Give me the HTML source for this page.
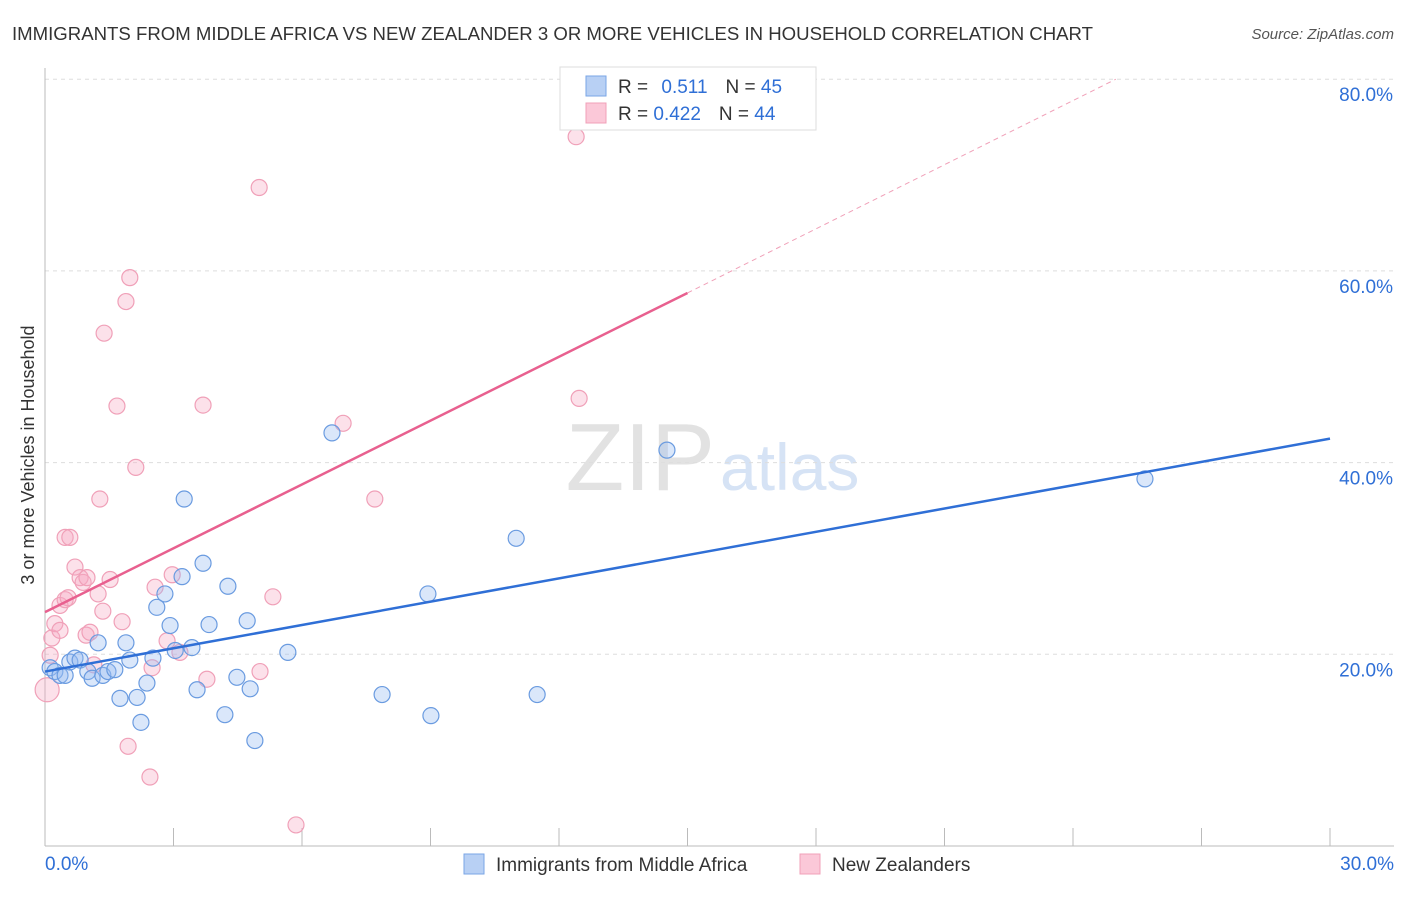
<!DOCTYPE html>
<html><head><meta charset="utf-8"><style>
body{margin:0;background:#fff;font-family:"Liberation Sans",sans-serif;}
svg text{font-family:"Liberation Sans",sans-serif;}
</style></head><body>
<svg id="c" width="1406" height="892" xmlns="http://www.w3.org/2000/svg">
<text x="12" y="40" font-size="18.6" fill="#333">IMMIGRANTS FROM MIDDLE AFRICA VS NEW ZEALANDER 3 OR MORE VEHICLES IN HOUSEHOLD CORRELATION CHART</text>
<text x="1394" y="39" font-size="15" fill="#555" font-style="italic" text-anchor="end">Source: ZipAtlas.com</text>
<text x="715" y="490" font-size="96" fill="#e2e2e2" font-family="Liberation Serif" text-anchor="end">ZIP</text>
<text x="720" y="490" font-size="66" fill="#d6e3f5">atlas</text>
<g id="grid"></g>
<g id="axes"></g>
<g id="marks"></g>
<text transform="translate(34,455) rotate(-90)" font-size="18" fill="#333" text-anchor="middle">3 or more Vehicles in Household</text>
<g>
<rect x="560" y="67" width="256" height="63" fill="#fff" stroke="#ddd"/>
<rect x="586" y="76" width="20" height="20" fill="#b8d0f4" stroke="#7aa6e6"/>
<rect x="586" y="103" width="20" height="20" fill="#fbc8d8" stroke="#f0a0b8"/>
<text x="618" y="93" font-size="19" fill="#333">R = <tspan fill="#2f6fd6" dx="8">0.511</tspan><tspan dx="18" fill="#333">N = </tspan><tspan fill="#2f6fd6">45</tspan></text>
<text x="618" y="120" font-size="19" fill="#333">R = <tspan fill="#2f6fd6">0.422</tspan><tspan dx="18" fill="#333">N = </tspan><tspan fill="#2f6fd6">44</tspan></text>
</g>
<g>
<rect x="464" y="854" width="20" height="20" fill="#b8d0f4" stroke="#7aa6e6"/>
<text x="496" y="871" font-size="19" fill="#333">Immigrants from Middle Africa</text>
<rect x="800" y="854" width="20" height="20" fill="#fbc8d8" stroke="#f0a0b8"/>
<text x="832" y="871" font-size="19" fill="#333">New Zealanders</text>
</g>
</svg>
<script>
const yTicks=[20,40,60,80];
const xTickLabels=["0.0%","30.0%"];
const blueX=[0.12,0.23,0.35,0.47,0.58,0.70,0.82,1.0,1.1,1.24,1.35,1.47,1.63,1.75,1.89,1.98,2.15,2.24,2.38,2.52,2.61,2.80,2.92,3.04,3.2,3.25,3.43,3.55,3.69,3.83,4.2,4.27,4.48,4.72,4.79,4.9,5.67,6.7,7.87,8.94,9.01,11.0,11.49,14.52,25.68];
const blueY=[18.6,18.2,17.8,17.8,19.2,19.6,19.4,18.2,17.5,21.2,17.8,18.2,18.4,15.4,21.2,19.4,15.5,12.9,17.0,19.6,24.9,26.3,23.0,20.4,28.1,36.2,20.7,16.3,29.5,23.1,13.7,27.1,17.6,23.5,16.4,11.0,20.2,43.1,15.8,26.3,13.6,32.1,15.8,41.3,38.3];
const pinkX=[0.05,0.12,0.16,0.23,0.35,0.47,0.54,0.47,0.58,0.70,0.82,0.89,0.98,0.96,1.05,1.14,1.24,1.28,1.35,1.38,1.68,1.8,1.89,1.94,1.98,2.12,2.45,2.5,2.57,2.85,2.97,3.15,3.69,3.78,5.0,5.02,5.32,5.86,6.96,7.7,12.4,12.47,0.35,1.52];
const pinkY=[16.3,19.9,21.7,23.2,25.1,25.7,25.9,32.2,32.2,29.1,28.0,27.5,28.0,22.0,22.3,18.9,26.3,36.2,24.5,53.5,45.9,23.4,56.8,10.4,59.3,39.5,7.2,18.6,27.0,21.4,28.3,20.2,46.0,17.4,68.7,18.2,26.0,2.2,44.1,36.2,74.0,46.7,22.5,27.8];
const blueLine=[[0,18.2],[30,42.5]];
const pinkLine=[[0,24.4],[15,57.7]];
const pinkDash=[[15,57.7],[25,80]];
const X=v=>45+v*(1285/30), Y=v=>846-v*9.585;
const NS="http://www.w3.org/2000/svg";
function mk(tag,attrs,parent){const e=document.createElementNS(NS,tag);for(const k in attrs)e.setAttribute(k,attrs[k]);document.getElementById(parent).appendChild(e);return e;}
yTicks.forEach(t=>{
 const l=mk('line',{x1:45,x2:1394,y1:Y(t),y2:Y(t),stroke:'#ddd','stroke-dasharray':'4,4'},'grid');
 
 
 const tx=mk('text',{x:1393,y:Y(t)+22,'font-size':19,fill:'#2f6fd6','text-anchor':'end'},'grid');tx.textContent=t.toFixed(1)+'%';
 
 
});
const xa=mk('line',{x1:45,x2:1394,y1:846,y2:846,stroke:'#bbb'},'axes');


const ya=mk('line',{x1:45,x2:45,y1:68,y2:846,stroke:'#bbb'},'axes');


for(let i=0;i<=10;i++){const t=mk('line',{x1:X(i*3),x2:X(i*3),y1:828,y2:846,stroke:'#bbb'},'axes');
 
 }
[[0,'start',45],[30,'end',1394]].forEach((d,i)=>{const t=mk('text',{x:d[2],y:870,'font-size':19,fill:'#2f6fd6','text-anchor':d[1]},'axes');t.textContent=xTickLabels[i];
 
 });
pinkX.forEach((x,i)=>{const c=mk('circle',{cx:X(x),cy:Y(pinkY[i]),r:i==0?12:8,fill:'rgba(246,170,196,0.35)',stroke:'#f0a0b8','stroke-width':1.2},'marks');
 
 });
blueX.forEach((x,i)=>{const c=mk('circle',{cx:X(x),cy:Y(blueY[i]),r:8,fill:'rgba(150,185,240,0.35)',stroke:'#6a9be0','stroke-width':1.2},'marks');
 
 });
const bl=mk('line',{x1:X(blueLine[0][0]),y1:Y(blueLine[0][1]),x2:X(blueLine[1][0]),y2:Y(blueLine[1][1]),stroke:'#2f6fd6','stroke-width':2.5},'marks');


const pl=mk('line',{x1:X(pinkLine[0][0]),y1:Y(pinkLine[0][1]),x2:X(pinkLine[1][0]),y2:Y(pinkLine[1][1]),stroke:'#e8608f','stroke-width':2.5},'marks');


const pd=mk('line',{x1:X(pinkDash[0][0]),y1:Y(pinkDash[0][1]),x2:X(pinkDash[1][0]),y2:Y(pinkDash[1][1]),stroke:'#f0a0b8','stroke-width':1,'stroke-dasharray':'5,4'},'marks');


</script>
</body></html>
